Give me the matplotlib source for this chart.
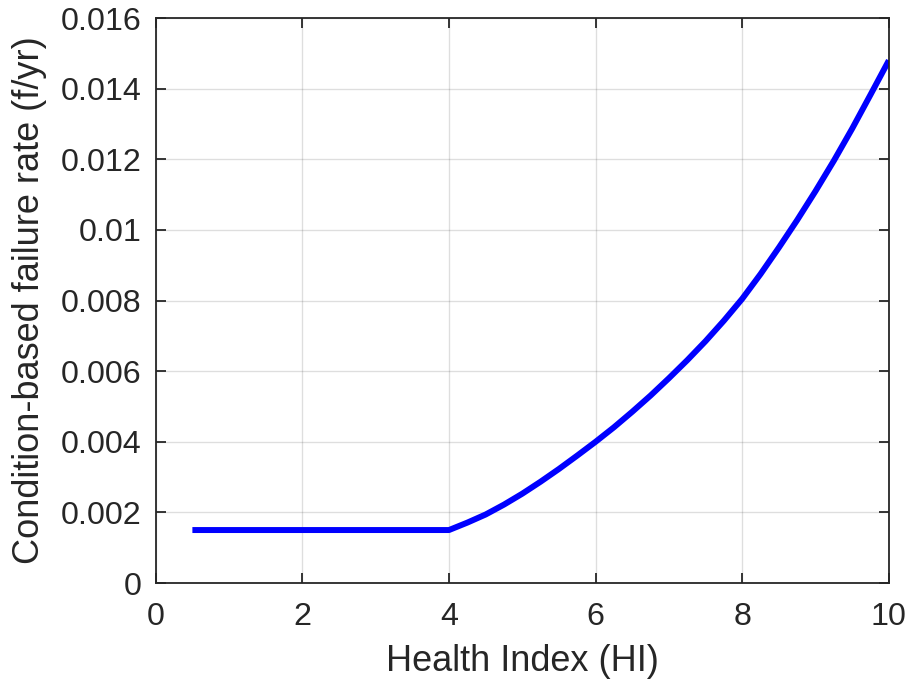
import matplotlib
matplotlib.use("Agg")
import matplotlib.pyplot as plt

# Health index vs condition-based failure rate
health_index = [0.5, 4.0, 4.25, 4.5, 4.75, 5.0, 5.25, 5.5, 5.75, 6.0, 6.25, 6.5, 6.75,
                7.0, 7.25, 7.5, 7.75, 8.0, 8.25, 8.5, 8.75, 9.0, 9.25, 9.5, 9.75, 10.0]
failure_rate = [0.0015, 0.0015, 0.00171, 0.00194, 0.00222, 0.00253, 0.00287, 0.00323,
                0.00361, 0.0040, 0.00441, 0.00485, 0.00531, 0.0058, 0.00631, 0.00685,
                0.00743, 0.00805, 0.00875, 0.0095, 0.01028, 0.0111, 0.01196, 0.01287,
                0.01383, 0.0148]

xticks = [0, 2, 4, 6, 8, 10]
yticks = [0, 0.002, 0.004, 0.006, 0.008, 0.01, 0.012, 0.014, 0.016]
ytick_labels = ["0", "0.002", "0.004", "0.006", "0.008", "0.01", "0.012", "0.014", "0.016"]

plt.rcParams['font.family'] = ['Liberation Sans', 'DejaVu Sans']
txt = '#262626'

fig = plt.figure(figsize=(9.07, 6.83), dpi=100)
ax = fig.add_axes([0.1717, 0.1464, 0.8083, 0.8272])

ax.plot(health_index, failure_rate, color=(0, 0, 1), linewidth=4.3,
        solid_capstyle='butt', solid_joinstyle='round')

ax.set_xlim(0, 10)
ax.set_ylim(0, 0.016)
ax.set_xticks(xticks)
ax.set_yticks(yticks)
ax.set_yticklabels(ytick_labels)

ax.grid(True, color='#262626', alpha=0.15, linewidth=1.0)
ax.set_axisbelow(True)
ax.tick_params(direction='in', length=7, width=1.3, top=True, right=True,
               labelsize=23.2, colors=txt)
ax.tick_params(axis='x', pad=14)
ax.tick_params(axis='y', pad=10)
for s in ax.spines.values():
    s.set_color(txt)
    s.set_linewidth(1.3)

ax.set_xlabel("Health Index (HI)", fontsize=26, color=txt, labelpad=8)
ax.set_ylabel("Condition-based failure rate (f/yr)", fontsize=26, color=txt, labelpad=10)

fig.savefig("out.png", dpi=100)
